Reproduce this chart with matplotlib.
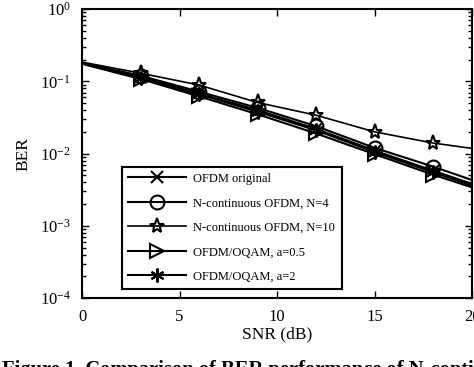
import matplotlib
matplotlib.use("Agg")
import matplotlib.pyplot as plt
import numpy as np

plt.rcParams['font.family'] = 'Liberation Serif'
plt.rcParams['mathtext.fontset'] = 'stix'

snr = [0, 3, 6, 9, 12, 15, 18, 20]
ber_ofdm = [0.180, 0.115, 0.068, 0.040, 0.022, 0.0110, 0.0058, 0.0038]
ber_nc4 = [0.180, 0.120, 0.072, 0.043, 0.024, 0.0120, 0.0066, 0.0043]
ber_nc10 = [0.185, 0.130, 0.089, 0.051, 0.034, 0.0200, 0.0140, 0.0118]
ber_oqam05 = [0.175, 0.108, 0.062, 0.035, 0.019, 0.0098, 0.0051, 0.0034]
ber_oqam2 = [0.178, 0.112, 0.066, 0.038, 0.021, 0.0105, 0.0055, 0.0036]

labels = ["OFDM original", "N-continuous OFDM, N=4", "N-continuous OFDM, N=10",
          "OFDM/OQAM, a=0.5", "OFDM/OQAM, a=2"]

fig = plt.figure(figsize=(4.74, 3.67), dpi=100)
ax = fig.add_axes([0.173, 0.188, 0.823, 0.787])

mk = slice(1, 7)
ax.semilogy(snr, ber_ofdm, color='k', lw=1.5, marker='x', ms=8, mew=1.5, markevery=mk, label=labels[0])
ax.semilogy(snr, ber_nc4, color='k', lw=1.5, marker='o', ms=10, mfc='none', mew=1.5, markevery=mk, label=labels[1])
ax.semilogy(snr, ber_nc10, color='k', lw=1.2, marker='*', ms=11, mfc='none', mew=1.5, markevery=mk, label=labels[2])
ax.semilogy(snr, ber_oqam05, color='k', lw=1.5, marker='>', ms=10, mfc='none', mew=1.5, markevery=mk, label=labels[3])
ax.semilogy(snr, ber_oqam2, color='k', lw=1.5, marker=(6, 2, 0), ms=10, mew=1.5, markevery=mk, label=labels[4])

ax.set_xlim(0, 20)
ax.set_ylim(1e-4, 1)
ax.set_xticks([0, 5, 10, 15, 20])
ax.set_yticks([1e-4, 1e-3, 1e-2, 1e-1, 1])
ax.tick_params(which='both', direction='in', top=True, right=True, labelsize=12)
ax.tick_params(which='major', length=5, width=1)
ax.tick_params(which='minor', length=3, width=1)
ax.tick_params(axis='x', pad=8)
ax.tick_params(axis='y', pad=8)
for s in ax.spines.values():
    s.set_linewidth(1.5)

ax.set_xlabel("SNR (dB)", fontsize=12.5, labelpad=1)
ax.set_ylabel("BER", fontsize=12.5, labelpad=6)

leg = ax.legend(loc='lower left', bbox_to_anchor=(0.103, 0.031), borderaxespad=0,
                fontsize=9, handlelength=4.6, labelspacing=1.0, fancybox=False,
                edgecolor='k', framealpha=1, borderpad=0.5, handletextpad=0.6)
leg.get_frame().set_linewidth(1.5)

fig.text(0.005, 0.018, "Figure 1. Comparison of BER performance of N-continuous OFDM",
         fontsize=14.8, fontweight='bold', ha='left', va='top')

fig.savefig("out.png", dpi=100)
